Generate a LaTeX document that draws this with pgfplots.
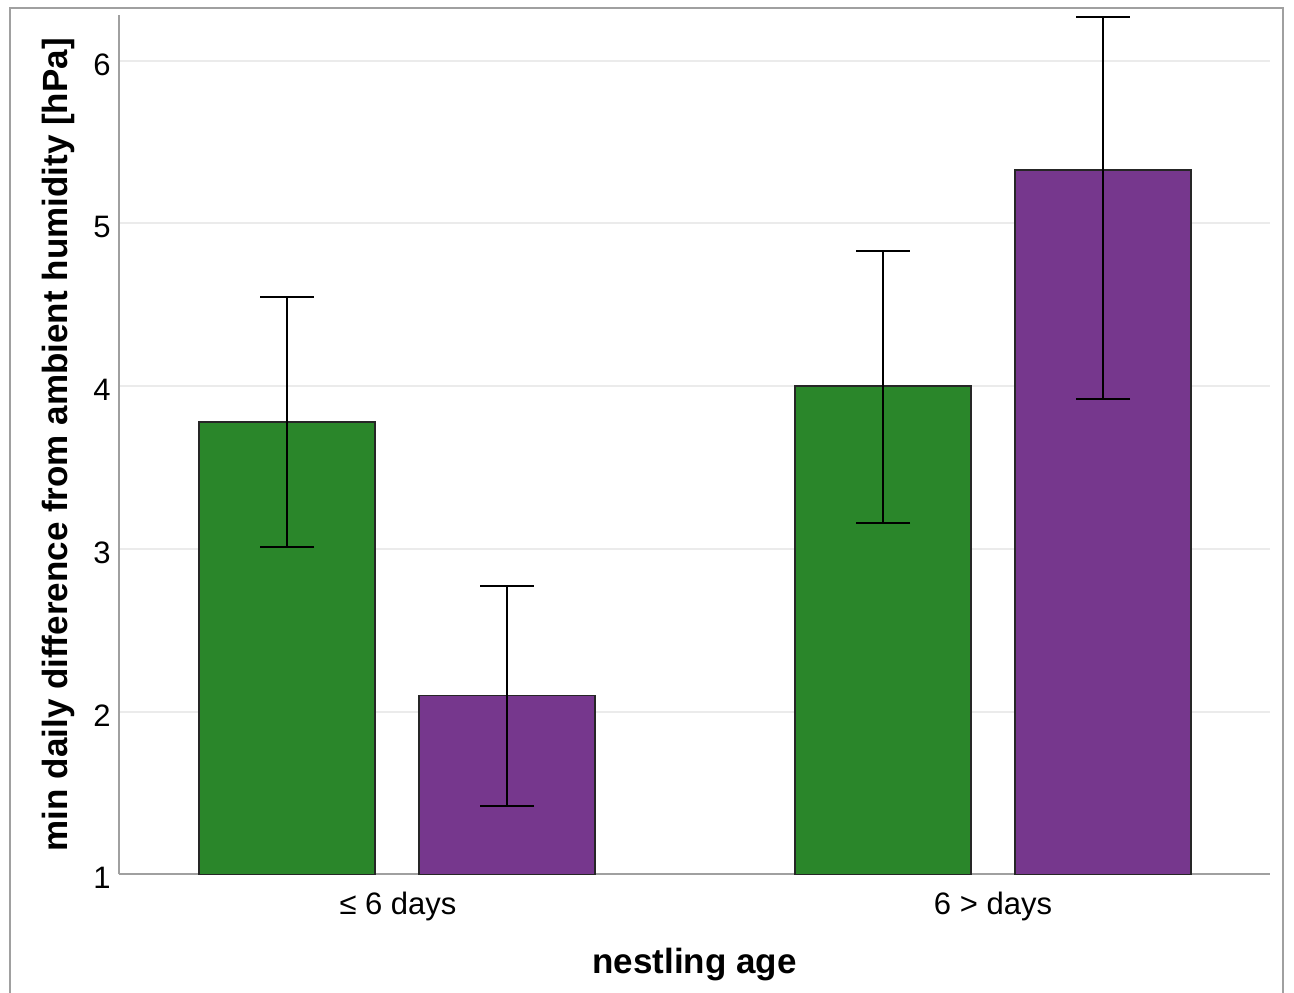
\documentclass[border=0pt]{standalone}
\usepackage{fontspec}
\setmainfont{Liberation Sans}
\usepackage{pgfplots}
\pgfplotsset{compat=1.18}
\definecolor{bargreen}{RGB}{42,134,42}
\definecolor{barpurple}{RGB}{118,55,141}
\definecolor{axisgray}{RGB}{160,160,160}
\definecolor{gridgray}{RGB}{235,235,235}
\begin{document}
\begin{tikzpicture}[x=1pt,y=1pt]
\useasboundingbox (0,0) rectangle (647,496);
\draw[axisgray, line width=1pt] (4.75,-10) -- (4.75,492) -- (641.5,492) -- (641.5,-10);
\begin{axis}[
  at={(59.5pt,58.85pt)}, anchor=south west,
  scale only axis, width=575.5pt, height=429.55pt,
  xmin=119, xmax=1270, ymin=1, ymax=6.28,
  ybar,
  axis x line*=bottom, axis y line*=left,
  axis line style={axisgray, line width=1pt},
  major tick length=0pt,
  xtick={398,993}, xticklabels={≤ 6 days, 6 > days},
  ytick={1,2,3,4,5,6},
  ymajorgrids, grid style={gridgray, line width=1pt},
  tick label style={font=\fontsize{15.5}{18}\selectfont, inner sep=0pt},
  yticklabel style={anchor=east, xshift=-4pt, yshift=-2pt},
  xticklabel style={anchor=north, yshift=-8.5pt},
  /pgf/number format/assume math mode=true,
  xlabel={nestling age},
  ylabel={min daily difference from ambient humidity [hPa]},
  label style={font=\fontsize{17.5}{20}\selectfont\bfseries},
  xlabel style={at={(axis description cs:0.5,-0.116)}, anchor=base},
  ylabel style={at={(axis description cs:-0.0445,0.5)}, anchor=base},
]
\addplot[fill=bargreen, draw=black!85, line width=0.75pt, bar width=176, /pgf/bar shift=0pt,
  error bars/.cd, y dir=both, y explicit,
  error bar style={black, line width=1pt},
  error mark options={rotate=90, black, line width=1pt, mark size=13.5pt}]
  coordinates {(287,3.78) += (0,0.77) -= (0,0.77)
               (883,4.00) += (0,0.83) -= (0,0.84)};
\addplot[fill=barpurple, draw=black!85, line width=0.75pt, bar width=176, /pgf/bar shift=0pt,
  error bars/.cd, y dir=both, y explicit,
  error bar style={black, line width=1pt},
  error mark options={rotate=90, black, line width=1pt, mark size=13.5pt}]
  coordinates {(507,2.10) += (0,0.67) -= (0,0.68)
               (1103,5.33) += (0,0.94) -= (0,1.41)};
\end{axis}
\end{tikzpicture}
\end{document}
